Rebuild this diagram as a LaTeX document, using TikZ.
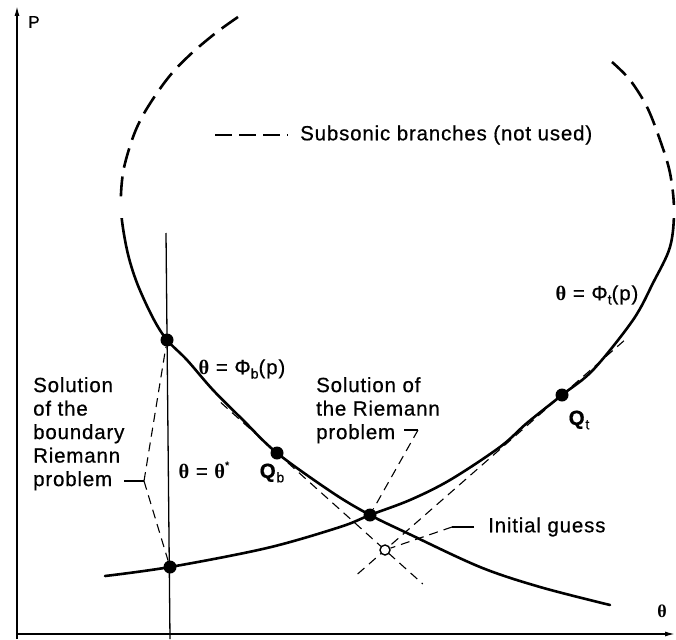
\documentclass[tikz,border=0pt]{standalone}
\usepackage{fontspec}
\setmainfont{Liberation Sans}[LetterSpace=4,FakeBold=0.6]
\newfontfamily\serf{Liberation Serif}
\usetikzlibrary{arrows.meta,calc}
\newcommand\tht{{\serf\bfseries θ}}
\newcommand\sbs[1]{\raisebox{-0.4ex}{\fontsize{14}{14}\selectfont #1}}
\newcommand\sps[1]{\raisebox{0.85ex}{\fontsize{11}{11}\selectfont #1}}
\tikzset{
  curve/.style={line width=2.6pt, line cap=round},
  branch/.style={line width=2.6pt, dash pattern=on 20pt off 9pt},
  guide/.style={line width=1.1pt, dash pattern=on 9pt off 6pt},
  leader/.style={line width=1.1pt},
  axis/.style={line width=1.5pt, -{Latex[length=10pt,width=5pt]}},
  thline/.style={line width=1.3pt},
  dot/.style={circle, fill=black, inner sep=0pt, minimum size=13pt},
  odot/.style={circle, draw=black, fill=white, line width=1.4pt, inner sep=0pt, minimum size=10pt},
  lbl/.style={inner sep=0pt, font=\fontsize{20.5}{23.5}\selectfont},
}
\def\curveL{plot[smooth,tension=0.55] coordinates {(238,17) (217,32) (193,52) (173,72) (157,93) (142,117) (132,140) (123,173) (121,210) (127,250) (137,283) (153,318) (d1) (187,360) (213,390) (243,420) (qb) (333,493) (x) (407,533) (480,567) (540,587) (610,605)}}
\def\curveT{plot[smooth,tension=0.55] coordinates {(105,576) (d2) (267,548) (340,527) (x) (410,500) (450,480) (500,447) (527,423) (qt) (593,370) (633,320) (653,283) (670,247) (674,210) (670,173) (660,140) (647,107) (630,80) (612,62)}}
\begin{document}
\begin{tikzpicture}[x=1pt,y=-1pt]
\useasboundingbox (0,0) rectangle (676,639);
% key points
\coordinate (d1) at (167,340);
\coordinate (d2) at (170,567);
\coordinate (qb) at (277,453);
\coordinate (x) at (370,515);
\coordinate (qt) at (562,395);
\coordinate (g) at (385,550);
% axes
\coordinate (yb) at (17,639);
\coordinate (yt) at (17,6);
\coordinate (xl) at (17,634);
\coordinate (xr) at (675,634);
\draw[axis] (yb) -- (yt);
\draw[axis] (xl) -- (xr);
\node[lbl, font=\fontsize{17}{17}\selectfont] (plab) at (34,22) {P};
\node[lbl, font=\fontsize{18}{18}\selectfont] (thlab) at (662,611) {\tht};
% theta* line
\coordinate (tt) at (166,233);
\coordinate (tb) at (170,639);
\draw[thline] (tt) -- (tb);
% tangent lines
\draw[guide] ($(qb)!-0.52!(g)$) -- ($(qb)!1.35!(g)$);
\draw[guide] ($(qt)!-0.35!(g)$) -- ($(qt)!1.18!(g)$);
% curves
\begin{scope}
  \clip (0,0) rectangle (676,204);
  \draw[branch] \curveL;
  \draw[branch] \curveT;
\end{scope}
\begin{scope}
  \clip (0,218) rectangle (676,639);
  \draw[curve] \curveL;
  \draw[curve] \curveT;
\end{scope}
% dots
\node[dot] (D1) at (d1) {};
\node[dot] (D2) at (d2) {};
\node[dot] (Qb) at (qb) {};
\node[dot] (X) at (x) {};
\node[dot] (Qt) at (qt) {};
\node[odot] (G) at (g) {};
% legend
\coordinate (lg1) at (215,135);
\coordinate (lg2) at (288,135);
\draw[line width=2.6pt, dash pattern=on 17pt off 7pt] (lg1) -- (lg2);
\node[lbl, anchor=west] (legend) at (300,135) {Subsonic branches (not used)};
% curve labels
\node[lbl] (phit) at (597,295) {\tht\ = Φ\sbs{t}(p)};
\node[lbl] (phib) at (242,369) {\tht\ = Φ\sbs{b}(p)};
\node[lbl] (thst) at (204,470) {\tht\ = \tht\sps{*}};
\node[lbl] (qblab) at (272,473) {\textbf{Q}\sbs{b}};
\node[lbl] (qtlab) at (579,420) {\textbf{Q}\sbs{t}};
% boundary Riemann label
\node[lbl, align=left, anchor=north west] (blab) at (33,377) {Solution\\of the\\boundary\\Riemann\\problem};
\coordinate (bt) at (124,481);
\coordinate (bv) at (144,481);
\draw[leader] (bt) -- (bv);
\draw[guide] (bv) -- (D1);
\draw[guide] (bv) -- (D2);
% Riemann label
\node[lbl, align=left, anchor=north west] (rlab) at (316,377) {Solution of\\the Riemann\\problem};
\coordinate (rt) at (404,430);
\coordinate (rv) at (418,430);
\draw[leader] (rt) -- (rv);
\draw[guide] (rv) -- (X);
% initial guess
\node[lbl, anchor=west] (ilab) at (488,527) {Initial guess};
\coordinate (it) at (474,527);
\coordinate (iv) at (452,527);
\draw[leader] (it) -- (iv);
\draw[guide] (iv) -- (G);
\end{tikzpicture}
\end{document}
